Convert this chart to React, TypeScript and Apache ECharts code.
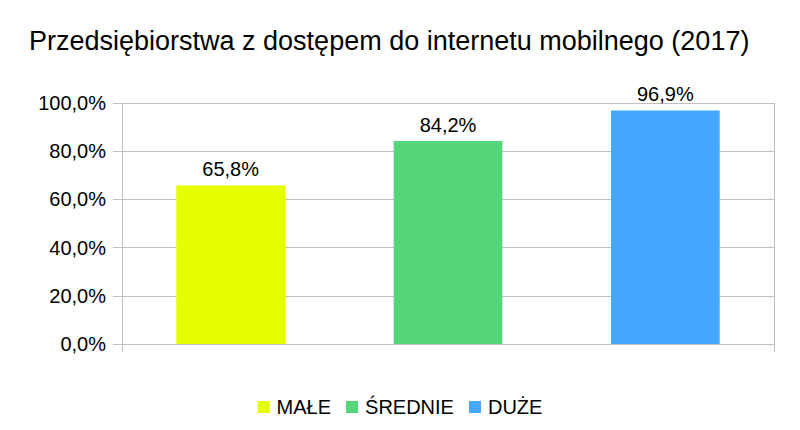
import * as echarts from "echarts";
import { useEffect, useRef } from "react";

const categories = ["MAŁE", "ŚREDNIE", "DUŻE"];
const values = [65.8, 84.2, 96.9];
const colors = ["#e6ff00", "#55d67a", "#45a8ff"];
const title = "Przedsiębiorstwa z dostępem do internetu mobilnego (2017)";

const fmt = (v: number) => v.toFixed(1).replace(".", ",") + "%";

export default function App() {
  const ref = useRef<HTMLDivElement>(null);

  useEffect(() => {
    document.body.style.margin = "0";
    if (!ref.current) return;
    const chart = echarts.init(ref.current, undefined, { renderer: "svg" });
    const font = "'Liberation Sans', Arial, sans-serif";
    chart.setOption({
      animation: false,
      backgroundColor: "#ffffff",
      textStyle: { fontFamily: font },
      title: {
        text: title,
        left: 24,
        top: 22,
        textStyle: { fontSize: 27, fontWeight: "normal", color: "#000", fontFamily: font },
      },
      legend: {
        bottom: 8,
        left: "center",
        itemWidth: 12,
        itemHeight: 12,
        itemGap: 15,
        icon: "rect",
        data: categories,
        textStyle: { fontSize: 20, color: "#000", fontFamily: font, padding: [0, 0, 0, 2] },
      },
      grid: { left: 122, right: 26, top: 103, bottom: 86 },
      xAxis: [
        {
          type: "category",
          data: categories,
          axisLine: { show: false },
          axisTick: { show: false },
          axisLabel: { show: false },
        },
        {
          type: "value",
          min: 0,
          max: 3,
          interval: 3,
          position: "bottom",
          axisLine: { show: false },
          axisLabel: { show: false },
          axisTick: { show: true, length: 8, lineStyle: { color: "#c0c0c0" } },
          splitLine: { show: true, lineStyle: { color: "#c0c0c0" } },
        },
      ],
      yAxis: {
        type: "value",
        min: 0,
        max: 100,
        interval: 20,
        axisLine: { show: false },
        axisTick: { show: true, length: 9, lineStyle: { color: "#c0c0c0" } },
        splitLine: { lineStyle: { color: "#c0c0c0" } },
        axisLabel: {
          fontSize: 20,
          color: "#000",
          margin: 16,
          formatter: (v: number) => fmt(v),
        },
      },
      series: categories.map((name, i) => ({
        name,
        type: "bar",
        xAxisIndex: 0,
        stack: "all",
        barWidth: "50%",
        itemStyle: { color: colors[i] },
        data: categories.map((_, j) => (j === i ? values[i] : null)),
        label: {
          show: true,
          position: "top",
          distance: 6,
          fontSize: 20,
          color: "#000",
          formatter: (p: any) => fmt(p.value),
        },
      })),
    });
    return () => chart.dispose();
  }, []);

  return <div ref={ref} style={{ width: 800, height: 430 }} />;
}
